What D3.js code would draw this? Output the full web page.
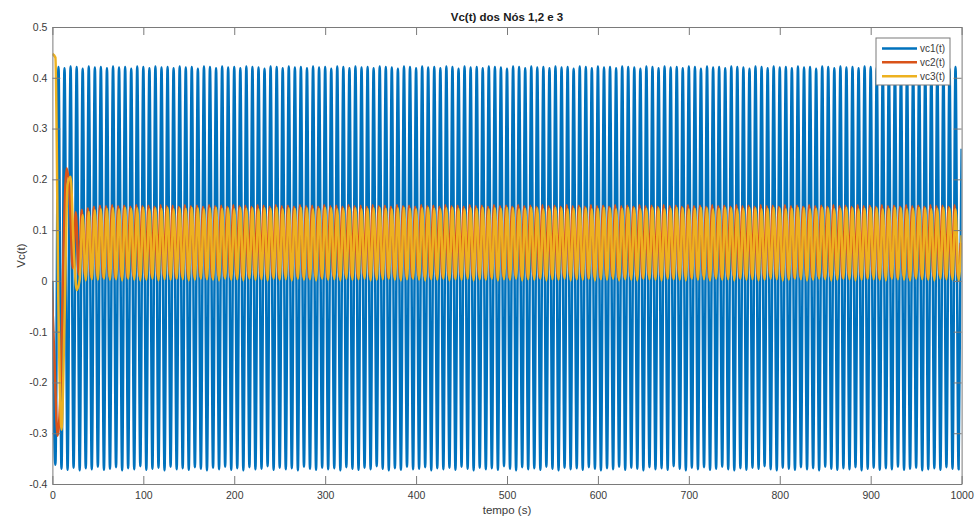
<!DOCTYPE html>
<html>
<head>
<meta charset="utf-8">
<script src="https://cdn.jsdelivr.net/npm/d3@7"></script>
<style>
  html, body { margin: 0; padding: 0; background: #ffffff; }
  svg { display: block; font-family: "Liberation Sans", Arial, Helvetica, sans-serif; }
</style>
</head>
<body>
<svg id="chart" width="975" height="525"></svg>
<script>
// ---------------- DATA ----------------
const title = "Vc(t) dos Nós 1,2 e 3";
const xLabel = "tempo (s)";
const yLabel = "Vc(t)";
const seriesNames = ["vc1(t)", "vc2(t)", "vc3(t)"];
const xTicks = [0, 100, 200, 300, 400, 500, 600, 700, 800, 900, 1000];
const yTicks = [0.5, 0.4, 0.3, 0.2, 0.1, 0, -0.1, -0.2, -0.3, -0.4];
const yTickLabels = ["0.5", "0.4", "0.3", "0.2", "0.1", "0", "-0.1", "-0.2", "-0.3", "-0.4"];

// sample times of the turning points (s)
const time = [
0,3.3,6.7,10,13.3,16.7,20,23.3,26.7,30,33.3,36.7,40,43.3,46.7,50,53.3,56.7,60,63.3,66.7,70,73.3,76.7,80,83.3,86.7,90,93.3,96.7,
100,103.3,106.7,110,113.3,116.7,120,123.3,126.7,130,133.3,136.7,140,143.3,146.7,150,153.3,156.7,160,163.3,166.7,170,173.3,176.7,180,183.3,186.7,190,193.3,196.7,
200,203.3,206.7,210,213.3,216.7,220,223.3,226.7,230,233.3,236.7,240,243.3,246.7,250,253.3,256.7,260,263.3,266.7,270,273.3,276.7,280,283.3,286.7,290,293.3,296.7,
300,303.3,306.7,310,313.3,316.7,320,323.3,326.7,330,333.3,336.7,340,343.3,346.7,350,353.3,356.7,360,363.3,366.7,370,373.3,376.7,380,383.3,386.7,390,393.3,396.7,
400,403.3,406.7,410,413.3,416.7,420,423.3,426.7,430,433.3,436.7,440,443.3,446.7,450,453.3,456.7,460,463.3,466.7,470,473.3,476.7,480,483.3,486.7,490,493.3,496.7,
500,503.3,506.7,510,513.3,516.7,520,523.3,526.7,530,533.3,536.7,540,543.3,546.7,550,553.3,556.7,560,563.3,566.7,570,573.3,576.7,580,583.3,586.7,590,593.3,596.7,
600,603.3,606.7,610,613.3,616.7,620,623.3,626.7,630,633.3,636.7,640,643.3,646.7,650,653.3,656.7,660,663.3,666.7,670,673.3,676.7,680,683.3,686.7,690,693.3,696.7,
700,703.3,706.7,710,713.3,716.7,720,723.3,726.7,730,733.3,736.7,740,743.3,746.7,750,753.3,756.7,760,763.3,766.7,770,773.3,776.7,780,783.3,786.7,790,793.3,796.7,
800,803.3,806.7,810,813.3,816.7,820,823.3,826.7,830,833.3,836.7,840,843.3,846.7,850,853.3,856.7,860,863.3,866.7,870,873.3,876.7,880,883.3,886.7,890,893.3,896.7,
900,903.3,906.7,910,913.3,916.7,920,923.3,926.7,930,933.3,936.7,940,943.3,946.7,950,953.3,956.7,960,963.3,966.7,970,973.3,976.7,980,983.3,986.7,990,993.3,996.7,
1000];

// vc2 turning points come about 1 s earlier than those of vc1/vc3
const vc2Lead = 1.0;

const vc1 = [0,
-0.362,0.421,-0.370,0.419,-0.372,0.422,-0.368,0.421,-0.373,0.418,-0.369,0.422,-0.371,0.420,-0.366,0.421,-0.372,0.419,-0.370,0.422,
-0.367,0.420,-0.373,0.421,-0.369,0.418,-0.371,0.422,-0.365,0.421,-0.372,0.419,-0.370,0.422,-0.368,0.420,-0.373,0.421,-0.366,0.419,
-0.371,0.422,-0.369,0.420,-0.372,0.421,-0.367,0.418,-0.370,0.422,-0.373,0.421,-0.368,0.419,-0.371,0.422,-0.366,0.420,-0.372,0.421,
-0.369,0.419,-0.373,0.422,-0.367,0.421,-0.371,0.420,-0.370,0.418,-0.365,0.422,-0.372,0.421,-0.368,0.419,-0.371,0.422,-0.369,0.420,
-0.373,0.421,-0.366,0.419,-0.370,0.422,-0.372,0.420,-0.368,0.421,-0.371,0.418,-0.369,0.422,-0.373,0.421,-0.367,0.419,-0.370,0.422,
-0.372,0.420,-0.368,0.421,-0.371,0.419,-0.365,0.422,-0.370,0.421,-0.373,0.420,-0.369,0.418,-0.372,0.422,-0.366,0.421,-0.371,0.419,
-0.370,0.422,-0.367,0.420,-0.373,0.421,-0.369,0.419,-0.371,0.422,-0.368,0.421,-0.372,0.418,-0.366,0.422,-0.370,0.420,-0.373,0.421,
-0.368,0.419,-0.371,0.422,-0.369,0.421,-0.372,0.420,-0.365,0.418,-0.370,0.422,-0.373,0.421,-0.367,0.419,-0.371,0.422,-0.369,0.420,
-0.372,0.421,-0.366,0.419,-0.370,0.422,-0.373,0.420,-0.368,0.421,-0.371,0.418,-0.369,0.422,-0.372,0.421,-0.367,0.419,-0.370,0.422,
-0.373,0.420,-0.369,0.421,-0.371,0.419,-0.366,0.422,-0.372,0.421,-0.368,0.420,-0.370,0.418,-0.373,0.422,-0.367,0.421,-0.371,0.419,
-0.369,0.422,-0.372,0.420,-0.365,0.421,-0.370,0.419,-0.373,0.422,-0.368,0.421,-0.371,0.418,-0.367,0.422,-0.372,0.420,-0.370,0.421,
-0.366,0.419,-0.371,0.422,-0.373,0.421,-0.369,0.420,-0.372,0.418,-0.368,0.422,-0.370,0.421,-0.365,0.419,-0.371,0.422,-0.373,0.420,
-0.368,0.421,-0.370,0.419,-0.372,0.422,-0.367,0.420,-0.371,0.421,-0.369,0.418,-0.373,0.422,-0.366,0.421,-0.370,0.419,-0.372,0.422,
-0.369,0.420,-0.371,0.421,-0.367,0.419,-0.373,0.422,-0.370,0.421,-0.368,0.420,-0.372,0.418,-0.369,0.422,-0.371,0.421,-0.366,0.419,
-0.372,0.422,-0.370,0.420,-0.368,0.421,-0.373,0.419,-0.371,0.422,-0.369,0.421,-0.372,0.420,-0.367,0.418,-0.370,0.421,
-0.371,0.26];

const vc2 = [0,-0.16,-0.305,-0.21,0.07,0.222,0.17,0.025,0.135,
0.012,0.140,0.010,0.143,0.008,0.146,0.010,0.148,0.007,0.147,0.009,0.149,0.006,0.147,0.008,0.148,0.007,0.146,0.009,0.149,
0.008,0.147,0.006,0.148,0.009,0.146,0.007,0.149,0.008,0.147,0.010,0.148,0.006,0.146,0.009,0.149,0.007,0.147,0.008,0.148,
0.009,0.146,0.007,0.149,0.006,0.147,0.010,0.148,0.008,0.146,0.007,0.149,0.009,0.147,0.006,0.148,0.008,0.146,0.010,0.149,
0.007,0.148,0.009,0.146,0.008,0.149,0.006,0.147,0.010,0.148,0.007,0.146,0.009,0.149,0.008,0.147,0.006,0.148,0.009,0.146,
0.008,0.149,0.006,0.147,0.009,0.148,0.007,0.146,0.010,0.149,0.008,0.147,0.006,0.148,0.009,0.146,0.007,0.149,0.008,0.147,
0.010,0.148,0.007,0.146,0.008,0.149,0.006,0.147,0.009,0.148,0.007,0.146,0.010,0.149,0.008,0.147,0.006,0.148,0.009,0.146,
0.007,0.149,0.009,0.147,0.006,0.148,0.008,0.146,0.010,0.149,0.007,0.147,0.009,0.148,0.006,0.146,0.008,0.149,0.007,0.147,
0.009,0.148,0.006,0.146,0.010,0.149,0.008,0.147,0.007,0.148,0.009,0.146,0.006,0.149,0.008,0.147,0.010,0.148,0.007,0.146,
0.008,0.149,0.010,0.147,0.007,0.148,0.009,0.146,0.006,0.149,0.008,0.147,0.007,0.148,0.010,0.146,0.009,0.149,0.006,0.147,
0.007,0.148,0.008,0.146,0.009,0.149,0.006,0.147,0.010,0.148,0.007,0.146,0.008,0.149,0.009,0.147,0.006,0.148,0.010,0.146,
0.009,0.149,0.007,0.147,0.008,0.148,0.010,0.146,0.006,0.149,0.009,0.147,0.007,0.148,0.008,0.146,0.010,0.149,0.006,0.147,
0.008,0.148,0.009,0.146,0.007,0.149,0.006,0.147,0.010,0.148,0.008,0.146,0.009,0.149,0.007,0.147,0.006,0.148,0.008,0.146,
0.010,0.149,0.006,0.147,0.009,0.148,0.007,0.146,0.008,0.149,0.010,0.147,0.006,0.148,0.009,0.146,0.007,0.149,0.008,0.147,
0.007,0.148,0.010,0.146,0.006,0.149,0.008,0.147,0.009,0.148,0.007,0.146,0.010,0.149,0.006,0.147,0.008,0.148,0.009,0.146,
0.006,0.149,0.008,0.147,0.010,0.148,0.007,0.146,0.009,0.149,
0.008,0.075];

const vc3 = [0.447,0.44,-0.06,-0.293,-0.08,0.19,0.205,0.07,-0.018,
0.003,0.130,0.001,0.136,0.003,0.139,0.002,0.141,0.004,0.142,0.002,0.143,0.003,0.141,0.001,0.144,0.004,0.142,0.002,0.143,
0.001,0.144,0.002,0.141,0.004,0.143,0.001,0.142,0.003,0.144,0.002,0.141,0.004,0.143,0.003,0.142,0.001,0.144,0.002,0.143,
0.004,0.141,0.003,0.143,0.002,0.144,0.001,0.142,0.004,0.143,0.002,0.141,0.003,0.144,0.001,0.142,0.004,0.143,0.002,0.141,
0.003,0.143,0.001,0.142,0.004,0.144,0.002,0.141,0.003,0.143,0.001,0.142,0.004,0.144,0.002,0.143,0.003,0.141,0.001,0.142,
0.004,0.144,0.002,0.143,0.003,0.141,0.001,0.142,0.004,0.144,0.002,0.143,0.003,0.141,0.004,0.142,0.001,0.143,0.002,0.144,
0.003,0.142,0.004,0.141,0.002,0.143,0.001,0.144,0.003,0.142,0.004,0.141,0.002,0.143,0.001,0.144,0.003,0.142,0.002,0.141,
0.004,0.143,0.001,0.144,0.003,0.142,0.002,0.141,0.004,0.143,0.001,0.142,0.003,0.144,0.002,0.141,0.004,0.143,0.001,0.142,
0.003,0.144,0.002,0.143,0.004,0.141,0.001,0.142,0.003,0.144,0.002,0.143,0.004,0.141,0.001,0.142,0.003,0.144,0.002,0.143,
0.004,0.141,0.001,0.142,0.003,0.144,0.002,0.143,0.004,0.141,0.001,0.142,0.003,0.144,0.002,0.143,0.004,0.141,0.001,0.142,
0.003,0.144,0.002,0.143,0.001,0.141,0.004,0.142,0.003,0.144,0.002,0.143,0.001,0.141,0.004,0.142,0.003,0.144,0.002,0.143,
0.001,0.141,0.004,0.142,0.002,0.144,0.003,0.143,0.001,0.141,0.004,0.142,0.002,0.144,0.003,0.143,0.001,0.141,0.004,0.142,
0.002,0.144,0.003,0.143,0.001,0.141,0.002,0.142,0.004,0.144,0.003,0.143,0.001,0.141,0.002,0.142,0.004,0.144,0.003,0.143,
0.001,0.141,0.002,0.142,0.004,0.144,0.003,0.143,0.001,0.141,0.002,0.142,0.004,0.144,0.003,0.143,0.001,0.141,0.002,0.142,
0.004,0.144,0.003,0.143,0.002,0.141,0.001,0.142,0.004,0.144,0.003,0.143,0.002,0.141,0.001,0.142,0.004,0.144,0.003,0.143,
0.002,0.141,0.001,0.142,0.004,0.144,0.003,0.143,0.002,0.141,
0.001,0.09];

const seriesValues = [vc1, vc2, vc3];
const seriesShift = [0, -vc2Lead, 0];
const seriesColors = ["#0072BD", "#D95319", "#EDB120"];

// ---------------- DRAWING ----------------
const svg = d3.select("#chart");
const W = 975, H = 525;
const plot = { left: 52.4, right: 961.6, top: 27, bottom: 484 };

const x = d3.scaleLinear().domain([0, 1000]).range([plot.left, plot.right]);
const y = d3.scaleLinear().domain([-0.4, 0.5]).range([plot.bottom, plot.top]);

svg.append("rect").attr("width", W).attr("height", H).attr("fill", "#ffffff");

svg.append("defs").append("clipPath").attr("id", "clip")
  .append("rect")
  .attr("x", plot.left).attr("y", plot.top)
  .attr("width", plot.right - plot.left).attr("height", plot.bottom - plot.top);

const gLines = svg.append("g").attr("clip-path", "url(#clip)");
seriesValues.forEach((vals, k) => {
  const lineGen = d3.line()
    .x((d, i) => x(time[i] + seriesShift[k]))
    .y(d => y(d))
    .curve(d3.curveMonotoneX);
  gLines.append("path")
    .datum(vals)
    .attr("fill", "none")
    .attr("stroke", seriesColors[k])
    .attr("stroke-width", 2.5)
    .attr("stroke-linejoin", "round")
    .attr("d", lineGen);
});

const axisColor = "#7a7a7a";
const textColor = "#3a3a3a";
const tickLen = 8;

function styleAxis(g) {
  g.select(".domain").attr("stroke", axisColor).attr("stroke-width", 1);
  g.selectAll(".tick line").attr("stroke", axisColor).attr("stroke-width", 1);
  g.selectAll(".tick text").attr("fill", textColor).attr("font-size", 10.5)
    .attr("font-family", "'Liberation Sans', Arial, sans-serif");
}

svg.append("g")
  .attr("transform", `translate(0,${plot.bottom})`)
  .call(d3.axisBottom(x).tickValues(xTicks).tickFormat(d3.format("d"))
    .tickSizeInner(-tickLen).tickSizeOuter(0).tickPadding(7.5))
  .call(styleAxis);

svg.append("g")
  .attr("transform", `translate(0,${plot.top})`)
  .call(d3.axisTop(x).tickValues(xTicks).tickFormat("")
    .tickSizeInner(-tickLen).tickSizeOuter(0))
  .call(styleAxis);

svg.append("g")
  .attr("transform", `translate(${plot.left},0)`)
  .call(d3.axisLeft(y).tickValues(yTicks).tickFormat((d, i) => yTickLabels[i])
    .tickSizeInner(-tickLen).tickSizeOuter(0).tickPadding(5))
  .call(styleAxis);

svg.append("g")
  .attr("transform", `translate(${plot.right},0)`)
  .call(d3.axisRight(y).tickValues(yTicks).tickFormat("")
    .tickSizeInner(-tickLen).tickSizeOuter(0))
  .call(styleAxis);

// title and labels
svg.append("text")
  .attr("x", (plot.left + plot.right) / 2).attr("y", 20.5)
  .attr("text-anchor", "middle").attr("font-weight", "bold")
  .attr("font-size", 11.5).attr("fill", "#1a1a1a")
  .text(title);

svg.append("text")
  .attr("x", (plot.left + plot.right) / 2).attr("y", 514)
  .attr("text-anchor", "middle").attr("font-size", 11.5).attr("fill", textColor)
  .text(xLabel);

svg.append("text")
  .attr("transform", `translate(24.5,${(plot.top + plot.bottom) / 2}) rotate(-90)`)
  .attr("text-anchor", "middle").attr("font-size", 11.5).attr("fill", textColor)
  .text(yLabel);

// legend
const lg = svg.append("g");
lg.append("rect")
  .attr("x", 876).attr("y", 38).attr("width", 74).attr("height", 47)
  .attr("fill", "#ffffff").attr("stroke", axisColor).attr("stroke-width", 1);
const legendRows = [48.5, 62.3, 76.3];
seriesNames.forEach((name, k) => {
  lg.append("line")
    .attr("x1", 882).attr("x2", 917)
    .attr("y1", legendRows[k]).attr("y2", legendRows[k])
    .attr("stroke", seriesColors[k]).attr("stroke-width", 2.5);
  lg.append("text")
    .attr("x", 920).attr("y", legendRows[k] + 3.6)
    .attr("font-size", 10).attr("fill", textColor)
    .text(name);
});
</script>
</body>
</html>
